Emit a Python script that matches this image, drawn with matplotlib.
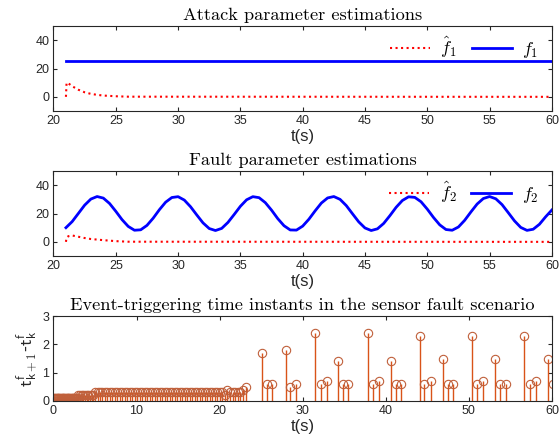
import matplotlib
matplotlib.use("Agg")
import matplotlib.pyplot as plt

plt.rcParams["font.family"] = ["Liberation Sans", "DejaVu Sans"]
plt.rcParams["mathtext.fontset"] = "cm"

# attack parameter estimation (panel 1)
t_f1 = [21.0, 60.0]
f1 = [25.0, 25.0]
t_f1hat = [21.0, 21.05, 21.2, 21.5, 22.0, 22.5, 23.0, 23.5, 24.0, 25.0, 26.0, 60.0]
f1hat = [0.0, 10.0, 9.5, 7.5, 5.0, 3.2, 2.1, 1.4, 0.9, 0.4, 0.1, 0.0]

# fault parameter estimation (panel 2)
t_f2 = [21.0, 21.5, 22.0, 22.5, 23.0, 23.5, 24.0, 24.5, 25.0, 25.5, 26.0, 26.5,
        27.0, 27.5, 28.0, 28.5, 29.0, 29.5, 30.0, 30.5, 31.0, 31.5, 32.0, 32.5,
        33.0, 33.5, 34.0, 34.5, 35.0, 35.5, 36.0, 36.5, 37.0, 37.5, 38.0, 38.5,
        39.0, 39.5, 40.0, 40.5, 41.0, 41.5, 42.0, 42.5, 43.0, 43.5, 44.0, 44.5,
        45.0, 45.5, 46.0, 46.5, 47.0, 47.5, 48.0, 48.5, 49.0, 49.5, 50.0, 50.5,
        51.0, 51.5, 52.0, 52.5, 53.0, 53.5, 54.0, 54.5, 55.0, 55.5, 56.0, 56.5,
        57.0, 57.5, 58.0, 58.5, 59.0, 59.5, 60.0]
f2 = [10.0, 14.3, 20.1, 25.9, 30.2, 32.0, 30.9, 27.1, 21.6, 15.7, 10.9, 8.2,
      8.5, 11.6, 16.7, 22.7, 28.0, 31.3, 31.9, 29.5, 24.8, 19.0, 13.4, 9.4,
      8.0, 9.5, 13.7, 19.3, 25.1, 29.7, 31.9, 31.2, 27.7, 22.4, 16.4, 11.4,
      8.4, 8.3, 11.1, 16.0, 21.9, 27.4, 31.0, 32.0, 30.0, 25.6, 19.8, 14.1,
      9.8, 8.0, 9.2, 13.0, 18.5, 24.4, 29.2, 31.8, 31.4, 28.3, 23.1, 17.2,
      12.0, 8.7, 8.2, 10.5, 15.2, 21.1, 26.7, 30.6, 32.0, 30.4, 26.3, 20.6,
      14.8, 10.2, 8.1, 8.9, 12.4, 17.7, 22.5]
t_f2hat = [21.0, 21.05, 21.2, 21.5, 22.0, 22.5, 23.0, 23.5, 24.0, 25.0, 26.0, 60.0]
f2hat = [0.0, 3.0, 4.0, 4.5, 3.6, 2.7, 2.0, 1.6, 1.2, 0.5, 0.1, 0.0]

# event-triggering instants (panel 3)
t_ev = [0.0, 0.1, 0.2, 0.3, 0.4, 0.5, 0.6, 0.7, 0.8, 0.9, 1.0, 1.1, 1.2, 1.3, 1.4,
        1.5, 1.6, 1.7, 1.8, 1.9, 2.0, 2.1, 2.2, 2.3, 2.4, 2.5, 2.6, 2.7, 2.8, 2.9,
        3.0, 3.2, 3.4, 3.6, 3.8, 4.0, 4.2, 4.4, 4.6, 4.8,
        5.0, 5.3, 5.6, 5.9, 6.2, 6.5, 6.8, 7.1, 7.4, 7.7, 8.0, 8.3, 8.6, 8.9,
        9.2, 9.5, 9.8, 10.1, 10.4, 10.7, 11.0, 11.3, 11.6, 11.9, 12.2, 12.5,
        12.8, 13.1, 13.4, 13.7, 14.0, 14.3, 14.6, 14.9, 15.2, 15.5, 15.8, 16.1,
        16.4, 16.7, 17.0, 17.3, 17.6, 17.9, 18.2, 18.5, 18.8, 19.1, 19.4, 19.7,
        20.0, 20.3,
        20.6, 20.9, 21.3, 21.6, 21.9, 22.2, 22.5, 22.8, 23.2,
        25.1, 25.7, 26.3, 28.0, 28.5, 29.2, 31.5, 32.2, 32.9, 34.2, 34.9, 35.5,
        37.9, 38.5, 39.2, 40.6, 41.2, 41.8, 44.1, 44.6, 45.4, 46.9, 47.5, 48.1,
        50.4, 51.0, 51.7, 53.2, 53.8, 54.5, 56.7, 57.4, 58.1, 59.5, 60.1]
dt_ev = [0.1] * 30 + [0.2] * 10 + [0.3] * 52 + \
        [0.2, 0.4, 0.3, 0.3, 0.3, 0.3, 0.3, 0.4, 0.5,
         1.7, 0.6, 0.6, 1.8, 0.5, 0.6, 2.4, 0.6, 0.7, 1.4, 0.6, 0.6,
         2.4, 0.6, 0.7, 1.4, 0.6, 0.6, 2.3, 0.6, 0.7, 1.5, 0.6, 0.6,
         2.3, 0.6, 0.7, 1.5, 0.6, 0.6, 2.3, 0.6, 0.7, 1.5, 0.6]

spine_col = "#262626"
stem_col = "#D95319"
title_font = dict(fontfamily="cmr10", fontsize=13.2)


def style_axes(ax):
    ax.tick_params(direction="in", top=True, right=True, labelsize=9,
                   colors=spine_col, length=3, width=0.8, pad=3)
    for s in ax.spines.values():
        s.set_color(spine_col)
        s.set_linewidth(0.8)
    ax.set_xlabel("t(s)", fontsize=12, labelpad=1, color=spine_col)


def add_legend(ax):
    ax.legend(loc="upper right", ncol=2, frameon=False, fontsize=13,
              handlelength=2.2, columnspacing=0.8, handletextpad=0.6,
              bbox_to_anchor=(0.995, 1.02), borderaxespad=0.2)


fig = plt.figure(figsize=(5.6, 4.38), dpi=100)
ax1 = fig.add_axes([0.0955, 0.7466, 0.890, 0.194])
ax2 = fig.add_axes([0.0955, 0.4155, 0.890, 0.194])
ax3 = fig.add_axes([0.0955, 0.0845, 0.890, 0.194])

# panel 1
ax1.plot(t_f1hat, f1hat, ":", color="#FF0000", lw=1.5, label=r"$\hat{f}_1$")
ax1.plot(t_f1, f1, "-", color="#0000FF", lw=2, label=r"$f_1$")
ax1.set_xlim(20, 60)
ax1.set_ylim(-10, 50)
ax1.set_xticks(range(20, 61, 5))
ax1.set_yticks([0, 20, 40])
ax1.set_title("Attack parameter estimations", pad=4, **title_font)
add_legend(ax1)
style_axes(ax1)

# panel 2
ax2.plot(t_f2hat, f2hat, ":", color="#FF0000", lw=1.5, label=r"$\hat{f}_2$")
ax2.plot(t_f2, f2, "-", color="#0000FF", lw=2, label=r"$f_2$")
ax2.set_xlim(20, 60)
ax2.set_ylim(-10, 50)
ax2.set_xticks(range(20, 61, 5))
ax2.set_yticks([0, 20, 40])
ax2.set_title("Fault parameter estimations", pad=4, **title_font)
add_legend(ax2)
style_axes(ax2)

# panel 3
markers, stems, base = ax3.stem(t_ev, dt_ev, basefmt=" ")
stems.set_color(stem_col)
stems.set_linewidth(1.0)
markers.set_markerfacecolor("none")
markers.set_markeredgecolor("#C0603B")
markers.set_markersize(6)
markers.set_markeredgewidth(0.8)
ax3.set_xlim(0, 60)
ax3.set_ylim(0, 3)
ax3.set_xticks(range(0, 61, 10))
ax3.set_yticks([0, 1, 2, 3])
ax3.set_title("Event-triggering time instants in the sensor fault scenario",
              pad=4, **title_font)
ax3.set_ylabel(r"$\mathsf{t^f_{k+1}}$-$\mathsf{t^f_k}$", fontsize=13,
               labelpad=2, color=spine_col)
style_axes(ax3)

fig.savefig("out.png", dpi=100)
